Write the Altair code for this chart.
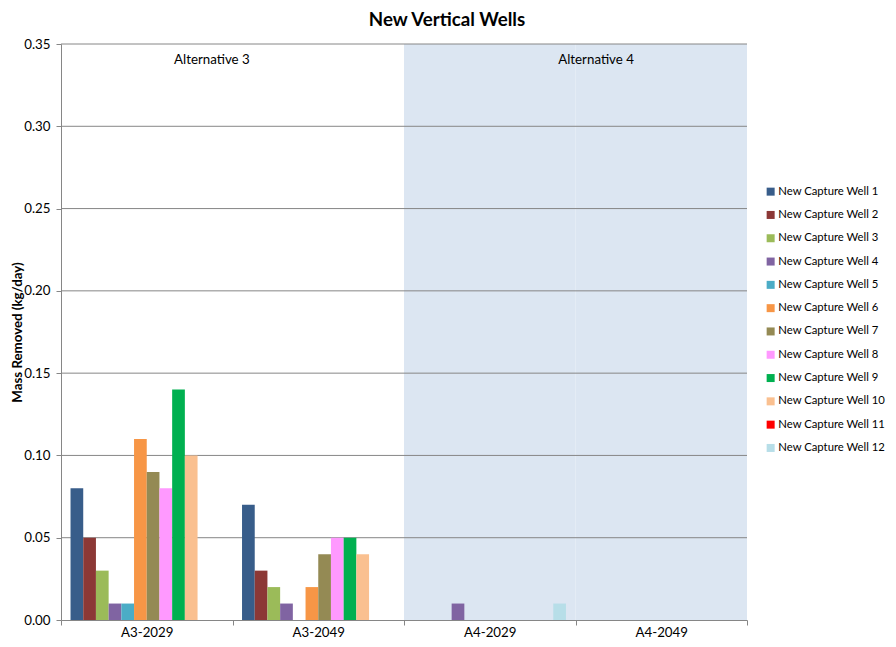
import altair as alt
import pandas as pd

categories = ["A3-2029", "A3-2049", "A4-2029", "A4-2049"]
wells = [f"New Capture Well {i}" for i in range(1, 13)]
colors = ["#385D8A", "#8C3836", "#9BBB59", "#8064A2", "#4BACC6", "#F79646",
          "#948A54", "#FF99FF", "#00B050", "#FAC090", "#FF0000", "#B7DEE8"]

values_a3_2029 = [0.08, 0.05, 0.03, 0.01, 0.01, 0.11, 0.09, 0.08, 0.14, 0.10, 0.0, 0.0]
values_a3_2049 = [0.07, 0.03, 0.02, 0.01, 0.0, 0.02, 0.04, 0.05, 0.05, 0.04, 0.0, 0.0]
values_a4_2029 = [0.0, 0.0, 0.0, 0.01, 0.0, 0.0, 0.0, 0.0, 0.0, 0.0, 0.0, 0.01]
values_a4_2049 = [0.0] * 12

y_ticks = [0.0, 0.05, 0.10, 0.15, 0.20, 0.25, 0.30, 0.35]
shaded_categories = ["A4-2029", "A4-2049"]
alt_labels = ["Alternative 3", "Alternative 4"]
alt_label_cats = ["A3-2029", "A4-2049"]
alt_label_band = [0.88, 0.12]

rows = []
for cat, vals in zip(categories, [values_a3_2029, values_a3_2049, values_a4_2029, values_a4_2049]):
    for w, v in zip(wells, vals):
        rows.append({"category": cat, "well": w, "value": v})
bars_df = pd.DataFrame(rows)

FONT = "Lato"
FS = 13.3
x_scale = alt.Scale(domain=categories, paddingInner=0, paddingOuter=0)
y_scale = alt.Scale(domain=[0, 0.35], nice=False, zero=True)

x_axis = alt.Axis(title=None, tickBand="extent", domainColor="#868686", tickColor="#868686",
                  tickSize=5, labelFont=FONT, labelFontSize=FS, labelColor="#000000",
                  labelAngle=0, labelPadding=0, labelBaseline="top", grid=False)
y_axis = alt.Axis(title="Mass Removed (kg/day)", values=y_ticks, format=".2f", grid=False,
                  domainColor="#868686", tickColor="#868686", tickSize=5,
                  labelFont=FONT, labelFontSize=FS, labelColor="#000000", labelPadding=6,
                  titleFont=FONT, titleFontSize=FS, titleFontWeight="bold", titleColor="#000000",
                  titleAngle=270, titleX=-44, titleY=288, titleAlign="center", titleBaseline="middle")

bg = alt.Chart(pd.DataFrame({"category": shaded_categories, "top": [0.35, 0.35], "bottom": [0, 0]})).mark_rect(
    color="#DCE6F2").encode(
    x=alt.X("category:N", scale=x_scale, axis=x_axis, sort=categories),
    y=alt.Y("top:Q", scale=y_scale, axis=y_axis),
    y2="bottom:Q",
)

grid = alt.Chart(pd.DataFrame({"v": y_ticks[1:]})).mark_rule(color="#868686", strokeWidth=1).encode(
    y=alt.Y("v:Q", scale=y_scale)
)

bars = alt.Chart(bars_df).mark_bar().encode(
    x=alt.X("category:N", scale=x_scale, sort=categories),
    xOffset=alt.XOffset("well:N", scale=alt.Scale(domain=wells, paddingInner=0, paddingOuter=0.75)),
    y=alt.Y("value:Q", scale=y_scale),
    color=alt.Color("well:N", scale=alt.Scale(domain=wells, range=colors),
                    legend=alt.Legend(title=None, orient="none", legendX=704, legendY=142,
                                      symbolType="square", symbolSize=64, symbolStrokeWidth=0,
                                      labelFont=FONT, labelFontSize=11.3, labelColor="#000000",
                                      rowPadding=11.3, labelOffset=2, labelLimit=200)),
)

texts = []
for lab, cat, bp in zip(alt_labels, alt_label_cats, alt_label_band):
    texts.append(alt.Chart(pd.DataFrame({"category": [cat], "y": [0.34], "label": [lab]})).mark_text(
        font=FONT, fontSize=FS, color="#000000", align="center", baseline="middle").encode(
        x=alt.X("category:N", scale=x_scale, bandPosition=bp),
        y=alt.Y("y:Q", scale=y_scale),
        text="label:N",
    ))

chart = alt.layer(bg, grid, bars, *texts).properties(
    width=686, height=576,
    padding={"left": 53, "top": 36, "right": 141, "bottom": 18},
    autosize=alt.AutoSizeParams(type="none"),
    title=alt.TitleParams("New Vertical Wells", font=FONT, fontSize=18.7, fontWeight="bold",
                          color="#000000", anchor="middle", frame="group", dx=43, offset=7),
).configure_view(stroke=None)

chart.save("out.html", embed_options={"renderer": "svg", "actions": False})
